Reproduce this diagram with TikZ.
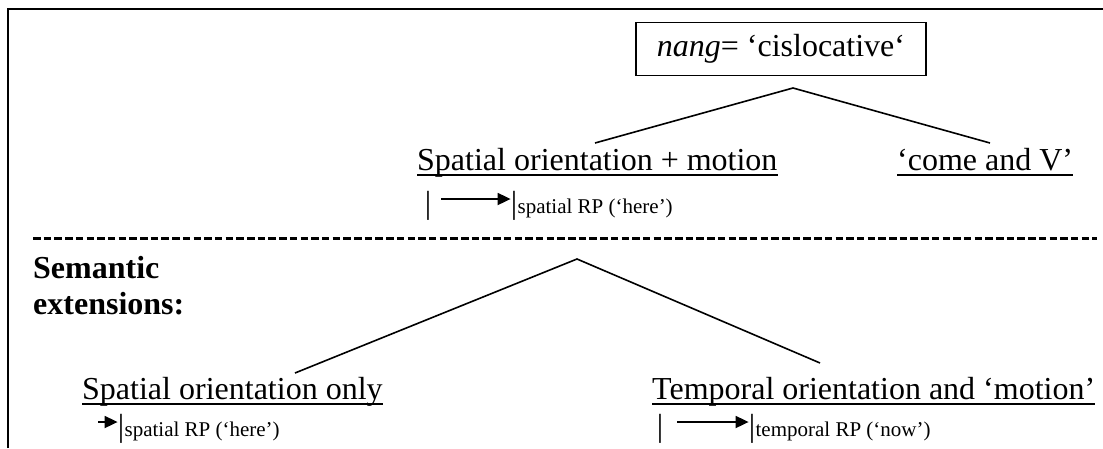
\documentclass[tikz,border=0pt]{standalone}
\usepackage{fontspec}
\setmainfont{Liberation Serif}
\usetikzlibrary{arrows.meta}
\tikzset{
  big/.style={inner sep=0pt, font=\fontsize{32}{36}\selectfont},
  boldtxt/.style={inner sep=0pt, font=\fontsize{32}{36}\selectfont\bfseries},
  sub/.style={inner sep=0pt, font=\fontsize{21}{25}\selectfont},
  bar/.style={inner sep=0pt, font=\fontsize{32}{36}\selectfont},
  branch/.style={line width=1.6pt},
  rparrow/.style={line width=1.8pt, -{Triangle[length=13pt,width=12pt]}},
  uline/.style={line width=2pt},
}
\begin{document}
\begin{tikzpicture}[x=1pt,y=-1pt]
\useasboundingbox (0,0) rectangle (1103,448);
% frame
\draw[line width=2.2pt] (8,448) -- (8,9) -- (1103,9);
% top box
\node[big, draw, line width=1.6pt, minimum width=290pt, minimum height=53pt] (top) at (781,49) {\textit{nang}= ‘cislocative‘};
\coordinate (apex1) at (793,88);
% level 1 nodes
\node[big, anchor=base west] (spm) at (417,170) {Spatial orientation + motion};
\draw[uline] ([yshift=-5pt]spm.base west) -- ([yshift=-5pt]spm.base east);
\node[big, anchor=base west] (come) at (897,170) {‘come and V’};
\draw[uline] ([yshift=-5pt]come.base west) -- ([yshift=-5pt]come.base east);
\coordinate (e1l) at (595,143);
\coordinate (e1r) at (990,143);
\draw[branch] (e1l) -- (apex1) -- (e1r);
% arrow row 1
\node[bar, anchor=base] (b1a) at (428,213) {|};
\node[bar, anchor=base] (b1b) at (514,213) {|};
\draw[rparrow] (441,199) -- (b1b.west |- 0,199);
\node[sub, anchor=base west] (s1) at (b1b.east |- 0,213) {spatial RP (‘here’)};
% dashed separator
\coordinate (dl) at (33,238);
\coordinate (dr) at (1097,238);
\draw[line width=3pt, dash pattern=on 7.5pt off 3.2pt] (dl) -- (dr);
% semantic extensions
\node[boldtxt, anchor=base west] (sem) at (33,278) {Semantic};
\node[boldtxt, anchor=base west] (ext) at (33,314) {extensions:};
% lower tree
\coordinate (apex2) at (577,259);
\coordinate (e2l) at (295,373);
\coordinate (e2r) at (820,363);
\draw[branch] (e2l) -- (apex2) -- (e2r);
\node[big, anchor=base west] (soo) at (82,399) {Spatial orientation only};
\draw[uline] ([yshift=-5pt]soo.base west) -- ([yshift=-5pt]soo.base east);
\node[big, anchor=base west] (tom) at (652,399) {Temporal orientation and ‘motion’};
\draw[uline] ([yshift=-5pt]tom.base west) -- ([yshift=-5pt]tom.base east);
% arrow row 2
\node[bar, anchor=base] (b2) at (121,436) {|};
\draw[rparrow] (98,422) -- (b2.west |- 0,422);
\node[sub, anchor=base west] (s2) at (b2.east |- 0,436) {spatial RP (‘here’)};
% arrow row 3
\node[bar, anchor=base] (b3a) at (660,436) {|};
\node[bar, anchor=base] (b3b) at (752,436) {|};
\draw[rparrow] (677,422) -- (b3b.west |- 0,422);
\node[sub, anchor=base west] (s3) at (b3b.east |- 0,436) {temporal RP (‘now’)};
\end{tikzpicture}
\end{document}
